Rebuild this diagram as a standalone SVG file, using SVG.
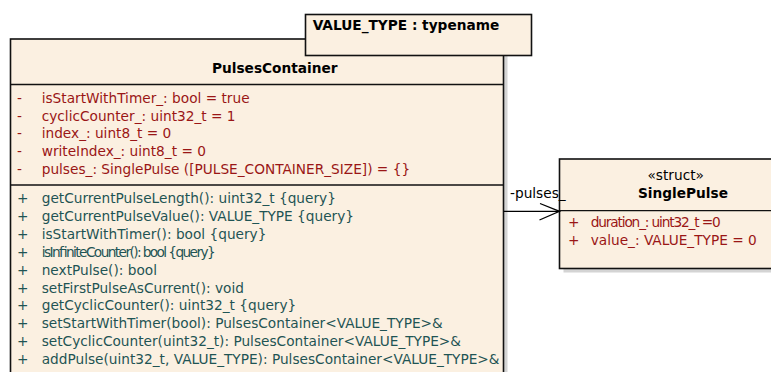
<svg xmlns="http://www.w3.org/2000/svg" width="771" height="372" viewBox="0 0 771 372">
  <style>
    text { font-family: "DejaVu Sans", "Liberation Sans", sans-serif; font-size: 13.7px; }
    .box { fill: #fbf0e1; stroke: #111; stroke-width: 1.6; }
    .shadow { fill: #d4d4d4; }
    .sep { stroke: #111; stroke-width: 1.3; }
    .title { font-weight: bold; fill: #000; }
    .attr { fill: #9a1616; }
    .op { fill: #1f5454; }
    .edge { stroke: #000; stroke-width: 1.3; fill: none; }
    .lbl { fill: #000; }
  </style>
  <rect width="771" height="372" fill="#fff"/>

  <!-- class PulsesContainer -->
  <g id="PulsesContainer">
    <rect class="shadow" x="14.5" y="43" width="493" height="340"/>
    <rect class="box" x="10.5" y="39" width="493" height="340"/>
    <text class="title" x="212" y="72.5">PulsesContainer</text>
    <line class="sep" x1="10.5" y1="84.5" x2="503.5" y2="84.5"/>
    <g class="attr">
      <text x="17" y="103">-</text><text x="41.7" y="103">isStartWithTimer_: bool = true</text>
      <text x="17" y="120.7">-</text><text x="41.7" y="120.7">cyclicCounter_: uint32_t = 1</text>
      <text x="17" y="138.4">-</text><text x="41.7" y="138.4">index_: uint8_t = 0</text>
      <text x="17" y="156.1">-</text><text x="41.7" y="156.1">writeIndex_: uint8_t = 0</text>
      <text x="17" y="173.8">-</text><text x="41.7" y="173.8">pulses_: SinglePulse ([PULSE_CONTAINER_SIZE]) = {}</text>
    </g>
    <line class="sep" x1="10.5" y1="185" x2="503.5" y2="185"/>
    <g class="op">
      <text x="17" y="203">+</text><text x="41.7" y="203">getCurrentPulseLength(): uint32_t {query}</text>
      <text x="17" y="220.9">+</text><text x="41.7" y="220.9">getCurrentPulseValue(): VALUE_TYPE {query}</text>
      <text x="17" y="238.8">+</text><text x="41.7" y="238.8">isStartWithTimer(): bool {query}</text>
      <text x="17" y="256.7">+</text><text x="41.7" y="256.7" textLength="174" lengthAdjust="spacing">isInfiniteCounter(): bool {query}</text>
      <text x="17" y="274.6">+</text><text x="41.7" y="274.6">nextPulse(): bool</text>
      <text x="17" y="292.5">+</text><text x="41.7" y="292.5">setFirstPulseAsCurrent(): void</text>
      <text x="17" y="310.4">+</text><text x="41.7" y="310.4">getCyclicCounter(): uint32_t {query}</text>
      <text x="17" y="328.3">+</text><text x="41.7" y="328.3">setStartWithTimer(bool): PulsesContainer&lt;VALUE_TYPE&gt;&amp;</text>
      <text x="17" y="346.2">+</text><text x="41.7" y="346.2">setCyclicCounter(uint32_t): PulsesContainer&lt;VALUE_TYPE&gt;&amp;</text>
      <text x="17" y="364.1">+</text><text x="41.7" y="364.1">addPulse(uint32_t, VALUE_TYPE): PulsesContainer&lt;VALUE_TYPE&gt;&amp;</text>
    </g>
  </g>

  <!-- template parameter of PulsesContainer -->
  <g id="TemplateParam">
    <rect class="box" x="305.5" y="14.5" width="226" height="41"/>
    <text class="title" x="312.7" y="30">VALUE_TYPE : typename</text>
  </g>

  <!-- struct SinglePulse -->
  <g id="SinglePulse">
    <rect class="shadow" x="563.5" y="163" width="260" height="109.5"/>
    <rect class="box" x="559.5" y="159" width="260" height="109.5"/>
    <text x="675.7" y="180" text-anchor="middle" fill="#000">«struct»</text>
    <text class="title" x="683" y="198" text-anchor="middle">SinglePulse</text>
    <line class="sep" x1="559.5" y1="210.7" x2="771" y2="210.7"/>
    <g class="attr">
      <text x="568" y="227">+</text><text x="590.7" y="227" textLength="130" lengthAdjust="spacing">duration_: uint32_t =0</text>
      <text x="568" y="245">+</text><text x="590.7" y="245">value_: VALUE_TYPE = 0</text>
    </g>
  </g>

  <!-- association PulsesContainer -> SinglePulse -->
  <g id="connectors">
    <line class="edge" x1="503.5" y1="211.3" x2="559.5" y2="211.3"/>
    <polyline class="edge" points="540,203.5 559.5,211.3 539.5,220"/>
    <text class="lbl" x="510" y="198">-pulses_</text>
  </g>
</svg>
